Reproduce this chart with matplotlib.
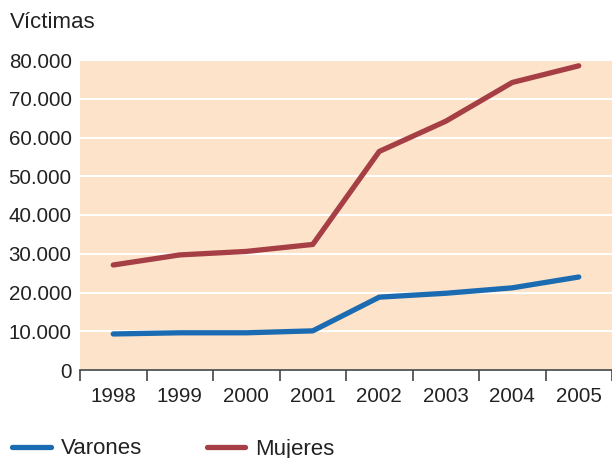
import matplotlib.pyplot as plt
import numpy as np

plt.rcParams['font.family'] = ['Liberation Sans', 'DejaVu Sans']

years = ['1998', '1999', '2000', '2001', '2002', '2003', '2004', '2005']
varones = [9300, 9600, 9600, 10100, 18800, 19800, 21200, 24000]
mujeres = [27100, 29700, 30600, 32400, 56400, 64200, 74200, 78500]
yticks = [0, 10000, 20000, 30000, 40000, 50000, 60000, 70000, 80000]

fig = plt.figure(figsize=(6.12, 4.58), dpi=100)
ax = fig.add_axes([80 / 612, 88 / 458, 532 / 612, 310 / 458])
ax.set_facecolor('#fce3c9')

x = np.arange(len(years))
ax.plot(x, varones, color='#1b6bb2', lw=3.8, solid_capstyle='round', label='Varones')
ax.plot(x, mujeres, color='#a63f45', lw=3.8, solid_capstyle='round', label='Mujeres')

ax.set_xlim(-0.5, len(years) - 0.5)
ax.set_ylim(0, 80000)

# year boundaries get the tick marks, labels sit in the middle of each year
ax.set_xticks(np.arange(-0.5, len(years)), labels=[])
ax.set_xticks(x, labels=years, minor=True)
ax.tick_params(axis='x', which='major', length=8, width=1.2, color='#444444', direction='out')
ax.tick_params(axis='x', which='minor', length=0, pad=12, labelsize=14.8, labelcolor='#222222')

ax.set_yticks(yticks, labels=[f'{v:,}'.replace(',', '.') for v in yticks])
ax.tick_params(axis='y', length=0, pad=6, labelsize=14.8, labelcolor='#222222')
ax.yaxis.grid(True, color='white', lw=1.5)
ax.set_axisbelow(True)

for s in ['top', 'right', 'left']:
    ax.spines[s].set_visible(False)
ax.spines['bottom'].set_color('#444444')
ax.spines['bottom'].set_linewidth(1.2)

fig.text(10 / 612, 1 - 22 / 458, 'Víctimas', fontsize=16, color='#222222', va='center')

fig.legend(loc='center left', bbox_to_anchor=(12 / 612, 1 - 449 / 458), ncol=2,
           frameon=False, fontsize=16, handlelength=1.75, columnspacing=2.9,
           handletextpad=0.45, borderaxespad=0, borderpad=0, labelcolor='#222222')

fig.savefig('out.png', dpi=100)
